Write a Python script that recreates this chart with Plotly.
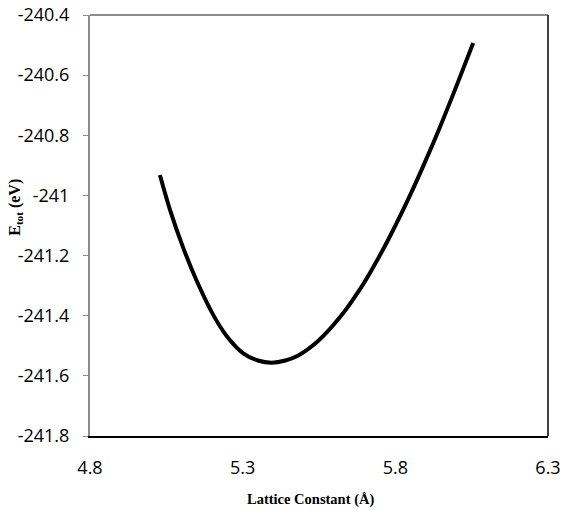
import plotly.graph_objects as go

# Data
lattice = [5.029, 5.062, 5.106, 5.149, 5.204, 5.248, 5.302, 5.350, 5.395, 5.440,
           5.477, 5.547, 5.621, 5.686, 5.723, 5.783, 5.848, 5.892, 5.946, 6.001, 6.055]
energy = [-240.932, -241.048, -241.176, -241.283, -241.398, -241.468, -241.525,
          -241.549, -241.556, -241.549, -241.535, -241.484, -241.402, -241.309,
          -241.247, -241.135, -241.000, -240.901, -240.773, -240.634, -240.493]

x_ticks = [4.8, 5.3, 5.8, 6.3]
x_labels = ["4.8", "5.3", "5.8", "6.3"]
y_ticks = [-241.8, -241.6, -241.4, -241.2, -241.0, -240.8, -240.6, -240.4]
y_labels = ["-241.8", "-241.6", "-241.4", "-241.2", "-241", "-240.8", "-240.6", "-240.4"]

fig = go.Figure()
fig.add_trace(go.Scatter(x=lattice, y=energy, mode="lines",
                         line=dict(color="black", width=4, shape="spline", smoothing=0.8),
                         showlegend=False, hoverinfo="skip"))

tick_font = dict(family="Open Sans", size=18, color="black")

fig.update_layout(
    width=571, height=510,
    margin=dict(l=90, r=23, t=15, b=74),
    paper_bgcolor="white", plot_bgcolor="white",
    xaxis=dict(range=[4.8, 6.3], tickvals=x_ticks, ticktext=x_labels,
               showgrid=False, zeroline=False, showline=True, linecolor="black",
               linewidth=2, ticks="", tickfont=tick_font, ticklabelstandoff=14,
               automargin=False),
    yaxis=dict(range=[-241.8, -240.4], tickvals=y_ticks, ticktext=y_labels,
               showgrid=False, zeroline=False, showline=True, linecolor="#8c8c8c",
               linewidth=2, ticks="outside", ticklen=5, tickcolor="#8c8c8c",
               tickwidth=1, tickfont=tick_font, ticklabelstandoff=10,
               automargin=False),
    shapes=[
        dict(type="line", xref="paper", yref="paper", x0=0, x1=1, y0=1, y1=1,
             line=dict(color="#8c8c8c", width=2)),
        dict(type="line", xref="paper", yref="paper", x0=1, x1=1, y0=0, y1=1,
             line=dict(color="black", width=1.5)),
    ],
    annotations=[
        dict(text="<b>Lattice Constant (Å)</b>", xref="paper", yref="paper",
             x=0.4825, y=-0.150, xanchor="center", yanchor="middle", showarrow=False,
             font=dict(family="Liberation Serif", size=14.5, color="black")),
        dict(text="<b>E<sub>tot</sub> (eV)</b>", xref="paper", yref="paper",
             x=-0.162, y=0.544, xanchor="center", yanchor="middle", showarrow=False,
             textangle=-90,
             font=dict(family="Liberation Serif", size=16, color="black")),
    ],
)

fig.write_html("out.html")
